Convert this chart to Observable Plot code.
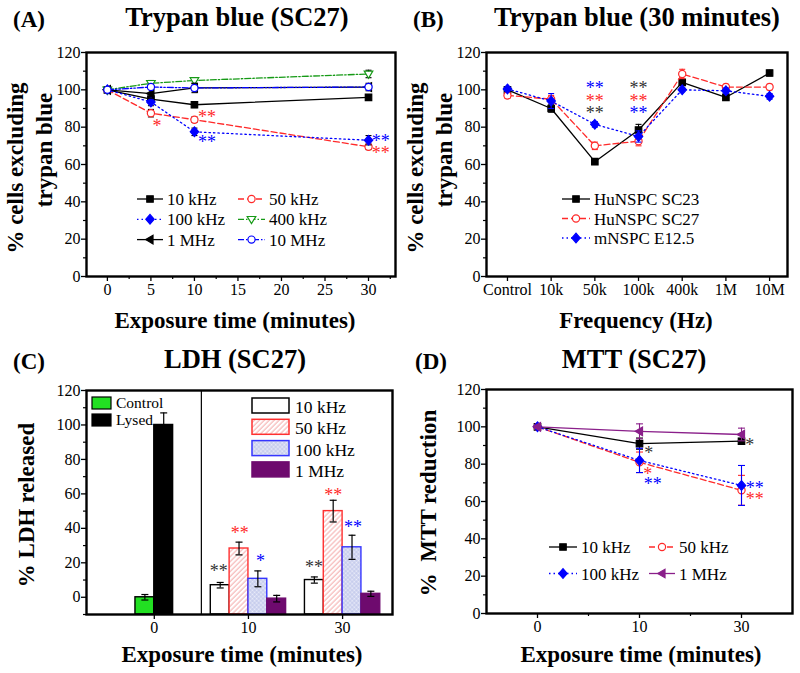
<!DOCTYPE html>
<html><head><meta charset="utf-8">
<script src="https://cdn.jsdelivr.net/npm/d3@7"></script>
<script src="https://cdn.jsdelivr.net/npm/@observablehq/plot@0.6"></script>
<style>
body{margin:0;background:#fff;}
#root{position:relative;width:800px;height:673px;overflow:hidden;background:#fff;font-family:"Liberation Serif","Times New Roman",serif;}
#root svg{position:absolute;}
</style></head>
<body><div id="root"></div>
<script>
// ---------------- DATA ----------------
// Panel A: Trypan blue (SC27) vs exposure time
const timeA = [0, 5, 10, 30];
const a10kHz = [100, 95, 92, 96];        const a10kHzErr = [1, 1.5, 1.5, 1];
const a50kHz = [100, 87.5, 84, 69.5];    const a50kHzErr = [1, 2, 1.5, 1.5];
const a100kHz = [100, 93.5, 77.5, 73];   const a100kHzErr = [1, 2, 2, 2.5];
const a400kHz = [100, 103.5, 105, 108.5];const a400kHzErr = [1, 1.5, 1.5, 2];
const a1MHz = [100, 98, 101, 101.5];     const a1MHzErr = [1, 2.5, 2.5, 1];
const a10MHz = [100, 101.5, 101, 101.5]; const a10MHzErr = [1, 1, 1.5, 2];
const starsAx = [5.7, 11.45, 11.45, 31.4, 31.4];
const starsAy = [82, 86.8, 73.2, 73.9, 67.7];
const starsAText = ["*", "**", "**", "**", "**"];
const starsASeries = ["50 kHz", "50 kHz", "100 kHz", "100 kHz", "50 kHz"];

// Panel B: Trypan blue (30 minutes) vs frequency
const freqLabels = ["Control", "10k", "50k", "100k", "400k", "1M", "10M"];
const bSC23 = [100, 90, 61.5, 78.5, 104, 96, 109];      const bSC23Err = [1.5, 2, 1.5, 3, 1.5, 1.5, 1.5];
const bSC27 = [97, 95, 70, 72.5, 108.5, 101.5, 101.5];  const bSC27Err = [1.5, 2, 2, 2.5, 2.5, 1.5, 1.5];
const bE125 = [100.5, 94, 81.5, 75, 100, 99.5, 96.5];   const bE125Err = [1, 4, 1.5, 3, 1, 1.5, 1.5];
const starsBx = [2, 2, 2, 3, 3, 3];
const starsBy = [102.3, 95.5, 88.9, 102.3, 95.5, 88.9];
const starsBSeries = ["mNSPC E12.5", "HuNSPC SC27", "HuNSPC SC23", "HuNSPC SC23", "HuNSPC SC27", "mNSPC E12.5"];

// Panel C: LDH released
const ldhGroupLabels = ["0", "10", "30"];
const ldhControl = [0];    const ldhControlErr = [1.6];
const ldhLysed = [100];    const ldhLysedErr = [7];
const ldh10kHz = [7, 10];       const ldh10kHzErr = [1.6, 1.8];
const ldh50kHz = [28.3, 50];    const ldh50kHzErr = [3.7, 6.3];
const ldh100kHz = [10.7, 29];   const ldh100kHzErr = [4.6, 7];
const ldh1MHz = [-0.8, 2];      const ldh1MHzErr = [1.9, 1.5];
const starsCx = [0.684, 0.908, 1.128, 1.695, 1.9, 2.11];
const starsCy = [16.7, 38.8, 22.5, 19, 61, 42.3];
const starsCText = ["**", "**", "*", "**", "**", "**"];
const starsCSeries = ["10 kHz", "50 kHz", "100 kHz", "10 kHz", "50 kHz", "100 kHz"];

// Panel D: MTT reduction
const mttLabels = ["0", "10", "30"];
const d10kHz = [100, 91, 92.3];   const d10kHzErr = [0.8, 3, 1.5];
const d50kHz = [100, 81, 66];     const d50kHzErr = [0.8, 5.5, 8];
const d100kHz = [100, 82, 68.6];  const d100kHzErr = [0.8, 6.5, 10.7];
const d1MHz = [100, 97.6, 95.9];  const d1MHzErr = [0.8, 4, 3.4];
const starsDx = [1.09, 1.08, 1.13, 2.08, 2.13, 2.13];
const starsDy = [87.3, 76.2, 70.9, 91.6, 68.4, 62.7];
const starsDText = ["*", "*", "**", "*", "**", "**"];
const starsDSeries = ["10 kHz", "50 kHz", "100 kHz", "10 kHz", "100 kHz", "50 kHz"];

// ---------------- SYMBOLS & STYLES ----------------
const rad = s => Math.sqrt(s / Math.PI);
const SYM = {
  square: {draw(c, s) { const r = rad(s) * 0.85; c.moveTo(-r, -r); c.lineTo(r, -r); c.lineTo(r, r); c.lineTo(-r, r); c.closePath(); }},
  diamond: {draw(c, s) { const r = rad(s); c.moveTo(0, -r * 1.15); c.lineTo(r, 0); c.lineTo(0, r * 1.15); c.lineTo(-r, 0); c.closePath(); }},
  triDown: {draw(c, s) { const r = rad(s); c.moveTo(-r, -0.65 * r); c.lineTo(r, -0.65 * r); c.lineTo(0, r); c.closePath(); }},
  triLeft: {draw(c, s) { const r = rad(s); c.moveTo(-r, 0); c.lineTo(0.7 * r, -r); c.lineTo(0.7 * r, r); c.closePath(); }},
  circle: {draw(c, s) { const r = rad(s); c.moveTo(r, 0); c.arc(0, 0, r, 0, 2 * Math.PI); c.closePath(); }},
  cap: {draw(c, s) { const r = rad(s); c.moveTo(-r, 0); c.lineTo(r, 0); }}
};
const RED = "#ff2a2a", BLUE = "#0000ff", GREEN = "#169a16", PURPLE = "#8a1f8a";
const STYLE = {
  "10 kHz":  {stroke: "black", dash: null, symbol: SYM.square, r: 3.8, fill: "black"},
  "50 kHz":  {stroke: RED, dash: "6,3", symbol: SYM.circle, r: 3.6, fill: "white"},
  "100 kHz": {stroke: BLUE, dash: "1.5,3", symbol: SYM.diamond, r: 4.2, fill: BLUE},
  "400 kHz": {stroke: GREEN, dash: "6,2,1.5,2", symbol: SYM.triDown, r: 4.3, fill: "white"},
  "1 MHz":   {stroke: "black", dash: null, symbol: SYM.triLeft, r: 4.3, fill: "black"},
  "10 MHz":  {stroke: BLUE, dash: "6,2,1.5,2,1.5,2", symbol: SYM.circle, r: 3.6, fill: "white"},
  "HuNSPC SC23": {stroke: "black", dash: null, symbol: SYM.square, r: 3.8, fill: "black"},
  "HuNSPC SC27": {stroke: RED, dash: "6,3", symbol: SYM.circle, r: 3.6, fill: "white"},
  "mNSPC E12.5": {stroke: BLUE, dash: "1.5,3", symbol: SYM.diamond, r: 4.2, fill: BLUE}
};
const STYLE_D = Object.assign({}, STYLE, {
  "1 MHz": {stroke: PURPLE, dash: null, symbol: SYM.triLeft, r: 4.3, fill: PURPLE}
});
const STAR_COL = {"10 kHz": "#333", "50 kHz": RED, "100 kHz": BLUE,
  "HuNSPC SC23": "#333", "HuNSPC SC27": RED, "mNSPC E12.5": BLUE};
const BAR_STYLE = {
  "Control": {fill: "#22e022", stroke: "black"},
  "Lysed":   {fill: "black", stroke: "black"},
  "10 kHz":  {fill: "white", stroke: "black"},
  "50 kHz":  {fill: "url(#hatchRed)", stroke: "#ff3030"},
  "100 kHz": {fill: "url(#hatchBlue)", stroke: "#3535ff"},
  "1 MHz":   {fill: "#6e0a6e", stroke: "#6e0a6e"}
};

const FONT = "'Liberation Serif','Times New Roman',serif";
const STAR_SIZE = 18;
const root = document.getElementById("root");

function rowsOf(name, xs, ys, es) {
  return ys.map((v, i) => ({name, x: xs[i], y: v, e: es[i]}));
}
function seriesMarks(rows, st, errColor, capR) {
  return [
    Plot.line(rows, {x: "x", y: "y", stroke: st.stroke, strokeWidth: 1.3, strokeDasharray: st.dash}),
    Plot.ruleX(rows, {x: "x", y1: d => d.y - d.e, y2: d => d.y + d.e, stroke: errColor || st.stroke, strokeWidth: 1.1}),
    Plot.dot(rows, {x: "x", y: d => d.y + d.e, symbol: SYM.cap, r: capR, fill: "none", stroke: errColor || st.stroke, strokeWidth: 1.1}),
    Plot.dot(rows, {x: "x", y: d => d.y - d.e, symbol: SYM.cap, r: capR, fill: "none", stroke: errColor || st.stroke, strokeWidth: 1.1}),
    Plot.dot(rows, {x: "x", y: "y", symbol: st.symbol, r: st.r, fill: st.fill, stroke: st.stroke, strokeWidth: 1.2})
  ];
}
function starMarks(xs, ys, texts, series) {
  const rows = xs.map((x, i) => ({x, y: ys[i], t: texts[i], c: STAR_COL[series[i]]}));
  return Plot.text(rows, {x: "x", y: "y", text: "t", fill: "c", fontSize: STAR_SIZE, lineAnchor: "bottom", dy: 8.5, textAnchor: "middle", fontFamily: FONT});
}
function axes(xTicks, xMinor, xFmt, yTicks, yMinor) {
  const common = {tickSize: 5, strokeWidth: 1.3, label: null, fontSize: 16, fontFamily: FONT, fill: "black"};
  const out = [
    Plot.axisY(yTicks, {...common, tickPadding: 1}),
    Plot.axisX(xTicks, {...common, tickPadding: 2, tickFormat: xFmt})
  ];
  if (yMinor) out.push(Plot.axisY(yMinor, {tickSize: 3, strokeWidth: 1.2, label: null, tickFormat: () => ""}));
  if (xMinor) out.push(Plot.axisX(xMinor, {tickSize: 3, strokeWidth: 1.2, label: null, tickFormat: () => ""}));
  return out;
}
function place(svg, left, top) {
  svg.style.left = left + "px"; svg.style.top = top + "px";
  root.appendChild(svg);
}
const plotStyle = {fontFamily: FONT, fontSize: "16px", color: "black", background: "transparent", overflow: "visible"};
const y120 = d3.range(0, 121, 20), yMinor = d3.range(10, 120, 20);

// ---------------- PANEL A ----------------
const seriesA = [
  ["10 kHz", a10kHz, a10kHzErr], ["50 kHz", a50kHz, a50kHzErr], ["100 kHz", a100kHz, a100kHzErr],
  ["400 kHz", a400kHz, a400kHzErr], ["1 MHz", a1MHz, a1MHzErr], ["10 MHz", a10MHz, a10MHzErr]
];
const plotA = Plot.plot({
  width: 400, height: 330, marginLeft: 86, marginRight: 5, marginTop: 52, marginBottom: 54,
  style: plotStyle,
  x: {domain: [-2.4, 33.1]}, y: {domain: [0, 120]},
  marks: [
    ...axes(d3.range(0, 31, 5), d3.range(2.5, 33, 5), d => d, y120, yMinor),
    ...seriesA.flatMap(([n, v, e]) => seriesMarks(rowsOf(n, timeA, v, e), STYLE[n], "black", 3)),
    starMarks(starsAx, starsAy, starsAText, starsASeries),
    Plot.frame({stroke: "black", strokeWidth: 2.4})
  ]
});
place(plotA, 0, 0);

// ---------------- PANEL B ----------------
const idxB = freqLabels.map((_, i) => i);
const seriesB = [["HuNSPC SC23", bSC23, bSC23Err], ["HuNSPC SC27", bSC27, bSC27Err], ["mNSPC E12.5", bE125, bE125Err]];
const plotB = Plot.plot({
  width: 400, height: 330, marginLeft: 86, marginRight: 13, marginTop: 52, marginBottom: 54,
  style: plotStyle,
  x: {domain: [-0.48, 6.41]}, y: {domain: [0, 120]},
  marks: [
    ...axes(idxB, null, i => freqLabels[i], y120, yMinor),
    ...seriesB.flatMap(([n, v, e]) => seriesMarks(rowsOf(n, idxB, v, e), STYLE[n], null, 3)),
    starMarks(starsBx, starsBy, starsBx.map(() => "**"), starsBSeries),
    Plot.frame({stroke: "black", strokeWidth: 2.4})
  ]
});
place(plotB, 400, 0);

// ---------------- PANEL C ----------------
const barW = 0.2;
const yMinC = -10;
function barRows(name, groups, vals, errs, k, nk) {
  return vals.map((v, i) => ({name, xc: groups[i] + (k - (nk - 1) / 2) * barW, v, e: errs[i]}));
}
const barsC = [
  barRows("Control", [0], ldhControl, ldhControlErr, 0, 2),
  barRows("Lysed", [0], ldhLysed, ldhLysedErr, 1, 2),
  barRows("10 kHz", [1, 2], ldh10kHz, ldh10kHzErr, 0, 4),
  barRows("50 kHz", [1, 2], ldh50kHz, ldh50kHzErr, 1, 4),
  barRows("100 kHz", [1, 2], ldh100kHz, ldh100kHzErr, 2, 4),
  barRows("1 MHz", [1, 2], ldh1MHz, ldh1MHzErr, 3, 4)
];
const allBarsC = barsC.flat();
const plotC = Plot.plot({
  width: 400, height: 343, marginLeft: 86, marginRight: 8, marginTop: 60, marginBottom: 59,
  style: plotStyle,
  x: {domain: [-0.72, 2.53]}, y: {domain: [yMinC, 120]},
  marks: [
    ...axes([0, 1, 2], null, i => ldhGroupLabels[i], y120, d3.range(-10, 120, 20)),
    Plot.ruleX([0.5], {stroke: "black", strokeWidth: 1.2}),
    ...barsC.map(rows => Plot.rect(rows, {
      x1: d => d.xc - barW / 2, x2: d => d.xc + barW / 2, y1: yMinC, y2: "v",
      fill: BAR_STYLE[rows[0].name].fill, stroke: BAR_STYLE[rows[0].name].stroke, strokeWidth: 1.4
    })),
    Plot.ruleX(allBarsC, {x: "xc", y1: d => d.v - d.e, y2: d => d.v + d.e, stroke: "black", strokeWidth: 1.2}),
    Plot.dot(allBarsC, {x: "xc", y: d => d.v + d.e, symbol: SYM.cap, r: 3.5, fill: "none", stroke: "black", strokeWidth: 1.2}),
    Plot.dot(allBarsC, {x: "xc", y: d => d.v - d.e, symbol: SYM.cap, r: 3.5, fill: "none", stroke: "black", strokeWidth: 1.2}),
    starMarks(starsCx, starsCy, starsCText, starsCSeries),
    Plot.frame({stroke: "black", strokeWidth: 2.4})
  ]
});
place(plotC, 0, 330);

// ---------------- PANEL D ----------------
const idxD = [0, 1, 2];
const seriesD = [["10 kHz", d10kHz, d10kHzErr], ["50 kHz", d50kHz, d50kHzErr], ["100 kHz", d100kHz, d100kHzErr], ["1 MHz", d1MHz, d1MHzErr]];
const plotD = Plot.plot({
  width: 400, height: 343, marginLeft: 86, marginRight: 8, marginTop: 59, marginBottom: 60,
  style: plotStyle,
  x: {domain: [-0.5, 2.5]}, y: {domain: [0, 120]},
  marks: [
    ...axes(idxD, [0.5, 1.5], i => mttLabels[i], y120, yMinor),
    ...seriesD.flatMap(([n, v, e]) => seriesMarks(rowsOf(n, idxD, v, e), STYLE_D[n], null, 3.5)),
    starMarks(starsDx, starsDy, starsDText, starsDSeries),
    Plot.frame({stroke: "black", strokeWidth: 2.4})
  ]
});
place(plotD, 400, 330);

// ---------------- OVERLAY: titles, labels, legends ----------------
const ov = d3.select(root).append("svg").attr("width", 800).attr("height", 673)
  .style("left", "0px").style("top", "0px").attr("font-family", FONT);
const defs = ov.append("defs");
const pr = defs.append("pattern").attr("id", "hatchRed").attr("patternUnits", "userSpaceOnUse")
  .attr("width", 3.5).attr("height", 3.5).attr("patternTransform", "rotate(45)");
pr.append("rect").attr("width", 3.5).attr("height", 3.5).attr("fill", "white");
pr.append("line").attr("x1", 1).attr("y1", 0).attr("x2", 1).attr("y2", 3.5).attr("stroke", "#f4a8a8").attr("stroke-width", 1);
const pb = defs.append("pattern").attr("id", "hatchBlue").attr("patternUnits", "userSpaceOnUse")
  .attr("width", 3).attr("height", 3).attr("patternTransform", "rotate(45)");
pb.append("rect").attr("width", 3).attr("height", 3).attr("fill", "#eceefa");
pb.append("line").attr("x1", 1).attr("y1", 0).attr("x2", 1).attr("y2", 3).attr("stroke", "#b4bbe6").attr("stroke-width", 0.8);
pb.append("line").attr("x1", 0).attr("y1", 1).attr("x2", 3).attr("y2", 1).attr("stroke", "#b4bbe6").attr("stroke-width", 0.8);

function txt(x, y, s, size, opts = {}) {
  const t = ov.append("text").attr("x", x).attr("y", y).attr("font-size", size).text(s)
    .attr("font-weight", opts.bold ? "bold" : "normal").attr("text-anchor", opts.anchor || "start").attr("fill", "black");
  if (opts.rot) t.attr("x", 0).attr("y", 0).attr("transform", `translate(${x},${y}) rotate(-90)`);
  return t;
}
// panel labels & titles
txt(13, 27, "(A)", 23, {bold: true});
txt(237, 26, "Trypan blue (SC27)", 26.5, {bold: true, anchor: "middle"});
txt(413, 27, "(B)", 23, {bold: true});
txt(637, 26, "Trypan blue (30 minutes)", 26.5, {bold: true, anchor: "middle"});
txt(13, 369, "(C)", 23, {bold: true});
txt(235, 368, "LDH (SC27)", 26.5, {bold: true, anchor: "middle"});
txt(415, 369, "(D)", 23, {bold: true});
txt(634, 368, "MTT (SC27)", 26.5, {bold: true, anchor: "middle"});
// axis titles
txt(235, 328, "Exposure time (minutes)", 23, {bold: true, anchor: "middle"});
txt(636, 328, "Frequency (Hz)", 23, {bold: true, anchor: "middle"});
txt(242, 662, "Exposure time (minutes)", 23, {bold: true, anchor: "middle"});
txt(641, 662, "Exposure time (minutes)", 23, {bold: true, anchor: "middle"});
txt(23, 168, "% cells excluding", 23, {bold: true, anchor: "middle", rot: true});
txt(52, 150, "trypan blue", 23, {bold: true, anchor: "middle", rot: true});
txt(423, 168, "% cells excluding", 23, {bold: true, anchor: "middle", rot: true});
txt(452, 150, "trypan blue", 23, {bold: true, anchor: "middle", rot: true});
txt(34, 505, "% LDH released", 23, {bold: true, anchor: "middle", rot: true});
txt(436, 503, "%\u00a0\u00a0MTT reduction", 23, {bold: true, anchor: "middle", rot: true});

// line legends
function legItem(x1, x2, y, name, st, size) {
  ov.append("line").attr("x1", x1).attr("x2", x2).attr("y1", y).attr("y2", y)
    .attr("stroke", st.stroke).attr("stroke-width", 1.3).attr("stroke-dasharray", st.dash);
  ov.append("path").attr("transform", `translate(${(x1 + x2) / 2},${y})`)
    .attr("d", d3.symbol(st.symbol, Math.PI * st.r * st.r)())
    .attr("fill", st.fill).attr("stroke", st.stroke).attr("stroke-width", 1.2);
  txt(x2 + 4, y + 6, name, size);
}
const legAcols = [[137, 163], [238, 265]];
seriesA.forEach(([n], i) => {
  const c = legAcols[i % 2], row = Math.floor(i / 2);
  legItem(c[0], c[1], 199 + row * 20.3, n, STYLE[n], 17);
});
seriesB.forEach(([n], i) => legItem(562, 590, 199 + i * 19.5, n, STYLE[n], 17));
const legDcols = [[549, 577], [649, 675]];
seriesD.forEach(([n], i) => {
  const c = legDcols[i % 2], row = Math.floor(i / 2);
  legItem(c[0], c[1], 547 + row * 26.5, n, STYLE_D[n], 17);
});
// bar legends
["Control", "Lysed"].forEach((n, i) => {
  const y = 397 + i * 17;
  ov.append("rect").attr("x", 92).attr("y", y).attr("width", 19).attr("height", 12)
    .attr("fill", BAR_STYLE[n].fill).attr("stroke", BAR_STYLE[n].stroke).attr("stroke-width", 1.2);
  txt(116, y + 11, n, 15.5);
});
barsC.slice(2).forEach((rows, i) => {
  const n = rows[0].name, y = 398 + i * 21.3;
  ov.append("rect").attr("x", 252).attr("y", y).attr("width", 37).attr("height", 15)
    .attr("fill", BAR_STYLE[n].fill).attr("stroke", BAR_STYLE[n].stroke).attr("stroke-width", 1.5);
  txt(295, y + 15, n, 17.5);
});
</script></body></html>
